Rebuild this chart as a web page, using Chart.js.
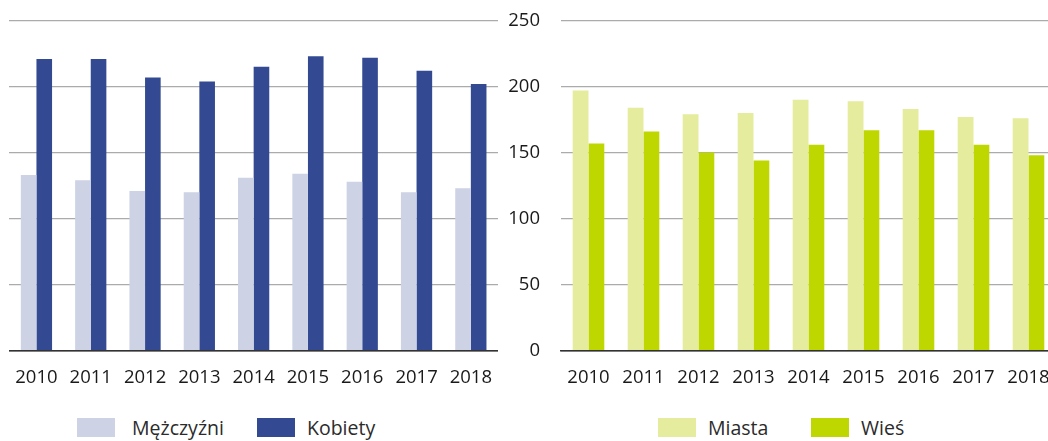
<!DOCTYPE html>
<html lang="pl">
<head>
    <meta charset="utf-8">
    <title>Wykres</title>
    <script src="https://cdn.jsdelivr.net/npm/chart.js"></script>
    <style>
        body {
            margin: 0;
            width: 1048px;
            height: 441px;
            overflow: hidden;
            background: #fff;
            position: relative;
            font-family: "Open Sans", sans-serif;
            color: #1a1a1a;
        }
        canvas {
            position: absolute;
            top: 0;
        }
        #leftChart { left: 0; }
        #rightChart { left: 500px; }
        .legend-item {
            position: absolute;
            top: 414px;
            display: flex;
            align-items: center;
            font-size: 19.5px;
            color: #2b2b2b;
            white-space: nowrap;
        }
        .legend-item span.box {
            display: inline-block;
            width: 38px;
            height: 19px;
        }
    </style>
</head>
<body>
    <canvas id="leftChart" width="498" height="400"></canvas>
    <canvas id="rightChart" width="556" height="400"></canvas>
    <div id="legend"></div>

    <script>
        const years = ['2010', '2011', '2012', '2013', '2014', '2015', '2016', '2017', '2018'];
        const men = [133, 129, 121, 120, 131, 134, 128, 120, 123];
        const women = [221, 221, 207, 204, 215, 223, 222, 212, 202];
        const city = [197, 184, 179, 180, 190, 189, 183, 177, 176];
        const village = [157, 166, 150, 144, 156, 167, 167, 156, 148];
        const yMax = 250;
        const yStep = 50;

        const colors = {
            men: '#cdd2e5',
            women: '#334a92',
            city: '#e5ec9d',
            village: '#bfd700'
        };

        const textColor = '#1a1a1a';
        const fontSpec = { family: '"Open Sans", sans-serif', size: 18.5 };
        const clear = 'rgba(0,0,0,0)';

        function makeOptions(showYLabels) {
            return {
                responsive: false,
                animation: false,
                devicePixelRatio: 1,
                layout: {
                    padding: { left: showYLabels ? 0 : 9.3, top: 20.7, right: 0, bottom: 0 }
                },
                plugins: {
                    legend: { display: false },
                    tooltip: { enabled: false }
                },
                datasets: {
                    bar: { categoryPercentage: 0.575, barPercentage: 1 }
                },
                scales: {
                    x: {
                        // invisible ticks push the labels down without adding side padding
                        grid: { display: true, color: clear, drawTicks: true, tickLength: 16, tickColor: clear },
                        border: { display: true, color: '#333', width: 1.5 },
                        ticks: { color: textColor, font: fontSpec, padding: 0, maxRotation: 0, autoSkip: false },
                        afterFit: function(scale) { scale.height = 49.5; }
                    },
                    y: {
                        min: 0,
                        max: yMax,
                        grid: {
                            drawTicks: showYLabels,
                            tickLength: 21,
                            tickColor: clear,
                            lineWidth: 1.2,
                            color: function(ctx) { return ctx.tick && ctx.tick.value === 0 ? '#333' : '#ababab'; }
                        },
                        border: { display: false },
                        ticks: {
                            display: showYLabels,
                            stepSize: yStep,
                            color: textColor,
                            font: fontSpec,
                            padding: 0
                        },
                        afterFit: function(scale) { scale.width = showYLabels ? 61 : 0; }
                    }
                }
            };
        }

        new Chart(document.getElementById('leftChart'), {
            type: 'bar',
            data: {
                labels: years,
                datasets: [
                    { label: 'Mężczyźni', data: men, backgroundColor: colors.men },
                    { label: 'Kobiety', data: women, backgroundColor: colors.women }
                ]
            },
            options: makeOptions(false)
        });

        new Chart(document.getElementById('rightChart'), {
            type: 'bar',
            data: {
                labels: years,
                datasets: [
                    { label: 'Miasta', data: city, backgroundColor: colors.city },
                    { label: 'Wieś', data: village, backgroundColor: colors.village }
                ]
            },
            options: makeOptions(true)
        });

        // legend below both charts
        const legendItems = [
            { text: 'Mężczyźni', color: colors.men, left: 77, gap: 17 },
            { text: 'Kobiety', color: colors.women, left: 257, gap: 12 },
            { text: 'Miasta', color: colors.city, left: 658, gap: 12 },
            { text: 'Wieś', color: colors.village, left: 811, gap: 12 }
        ];
        const legend = document.getElementById('legend');
        legendItems.forEach(function(item) {
            const div = document.createElement('div');
            div.className = 'legend-item';
            div.style.left = item.left + 'px';
            const box = document.createElement('span');
            box.className = 'box';
            box.style.background = item.color;
            box.style.marginRight = item.gap + 'px';
            div.appendChild(box);
            div.appendChild(document.createTextNode(item.text));
            legend.appendChild(div);
        });
    </script>
</body>
</html>
